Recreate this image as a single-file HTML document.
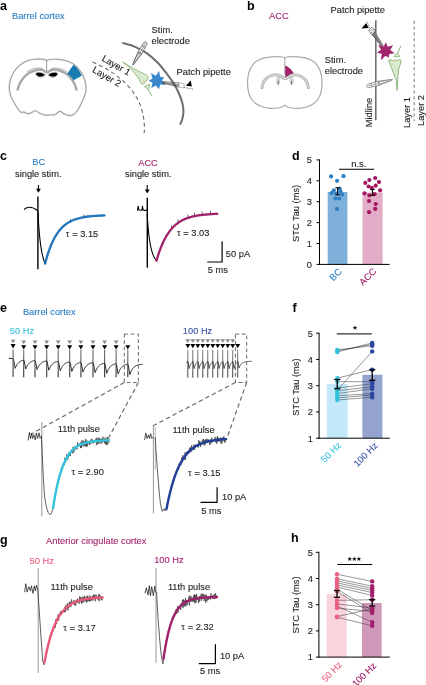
<!DOCTYPE html>
<html><head><meta charset="utf-8"><style>
html,body{margin:0;padding:0;background:#fff;}
svg{display:block;will-change:transform;}
text{font-family:"Liberation Sans", sans-serif;}
</style></head><body>
<svg width="426" height="685" viewBox="0 0 426 685">
<defs><linearGradient id="artg" x1="0" y1="349" x2="0" y2="378" gradientUnits="userSpaceOnUse"><stop offset="0" stop-color="#7c7c7c"/><stop offset="0.45" stop-color="#5e5e5e"/><stop offset="1" stop-color="#333"/></linearGradient></defs>
<rect width="426" height="685" fill="#fff"/>
<text x="0" y="10" font-size="12.5" fill="#000" text-anchor="start" font-weight="bold">a</text>
<text x="12" y="18.7" font-size="9.3" fill="#2f80c4" text-anchor="start" font-weight="normal" stroke="#2f80c4" stroke-width="0.12">Barrel cortex</text>
<path d="M46.60,60.70 C46.25,60.50 46.15,59.77 44.50,59.50 C42.85,59.23 39.53,58.92 36.70,59.10 C33.87,59.28 30.37,59.53 27.50,60.60 C24.63,61.67 21.83,63.52 19.50,65.50 C17.17,67.48 15.08,69.92 13.50,72.50 C11.92,75.08 10.70,78.28 10.00,81.00 C9.30,83.72 9.20,86.38 9.30,88.80 C9.40,91.22 9.90,93.38 10.60,95.50 C11.30,97.62 12.35,99.40 13.50,101.50 C14.65,103.60 16.20,106.25 17.50,108.10 C18.80,109.95 20.30,111.97 21.30,112.60 C22.30,113.23 22.42,111.72 23.50,111.90 C24.58,112.08 26.45,113.57 27.80,113.70 C29.15,113.83 30.33,113.22 31.60,112.70 C32.87,112.18 34.00,110.48 35.40,110.60 C36.80,110.72 38.28,112.63 40.00,113.40 C41.72,114.17 43.97,114.95 45.70,115.20 C47.43,115.45 48.83,115.00 50.40,114.90 C51.97,114.80 53.53,115.22 55.10,114.60 C56.67,113.98 58.08,111.20 59.80,111.20 C61.52,111.20 63.37,113.93 65.40,114.60 C67.43,115.27 70.12,115.70 72.00,115.20 C73.88,114.70 75.28,113.30 76.70,111.60 C78.12,109.90 79.37,107.18 80.50,105.00 C81.63,102.82 82.63,100.67 83.50,98.50 C84.37,96.33 85.28,94.00 85.70,92.00 C86.12,90.00 86.17,88.50 86.00,86.50 C85.83,84.50 85.40,82.22 84.70,80.00 C84.00,77.78 83.00,75.27 81.80,73.20 C80.60,71.13 78.88,69.13 77.50,67.60 C76.12,66.07 75.33,65.13 73.50,64.00 C71.67,62.87 69.25,61.60 66.50,60.80 C63.75,60.00 59.83,59.40 57.00,59.20 C54.17,59.00 51.23,59.35 49.50,59.60 C47.77,59.85 47.08,60.52 46.60,60.70 Z" fill="#fff" stroke="#a9a9a9" stroke-width="1.4"/>
<line x1="46.6" y1="60.8" x2="46.6" y2="71.2" stroke="#a9a9a9" stroke-width="1.2"/>
<path d="M17.60,89.60 C17.97,88.58 18.77,85.53 19.80,83.50 C20.83,81.47 22.35,79.12 23.80,77.40 C25.25,75.68 26.80,74.30 28.50,73.20 C30.20,72.10 32.17,71.40 34.00,70.80 C35.83,70.20 38.00,69.70 39.50,69.60 C41.00,69.50 41.82,69.73 43.00,70.20 C44.18,70.67 45.25,72.40 46.60,72.40 C47.95,72.40 49.77,70.67 51.10,70.20 C52.43,69.73 53.10,69.50 54.60,69.60 C56.10,69.70 58.27,70.20 60.10,70.80 C61.93,71.40 63.90,72.10 65.60,73.20 C67.30,74.30 68.85,75.68 70.30,77.40 C71.75,79.12 73.27,81.47 74.30,83.50 C75.33,85.53 76.13,88.58 76.50,89.60" fill="none" stroke="#a9a9a9" stroke-width="2.4" stroke-linecap="round"/>
<path d="M27.00,71.60 C28.00,71.17 31.17,69.57 33.00,69.00 C34.83,68.43 36.50,68.30 38.00,68.20 C39.50,68.10 40.90,67.87 42.00,68.40 C43.10,68.93 44.17,70.90 44.60,71.40" fill="none" stroke="#a9a9a9" stroke-width="1.0"/>
<path d="M66.80,71.60 C65.80,71.17 62.63,69.57 60.80,69.00 C58.97,68.43 57.30,68.30 55.80,68.20 C54.30,68.10 52.90,67.87 51.80,68.40 C50.70,68.93 49.63,70.90 49.20,71.40" fill="none" stroke="#a9a9a9" stroke-width="1.0"/>
<path d="M35.00,74.60 C35.20,74.17 35.33,72.45 36.20,72.00 C37.07,71.55 38.80,71.67 40.20,71.90 C41.60,72.13 43.67,72.88 44.60,73.40 C45.53,73.92 46.15,74.30 45.80,75.00 C45.45,75.70 43.80,77.23 42.50,77.60 C41.20,77.97 39.25,77.70 38.00,77.20 C36.75,76.70 35.50,75.03 35.00,74.60 Z" fill="#c4c4c4"/>
<path d="M35.90,74.60 C36.08,74.32 36.28,73.20 37.00,72.90 C37.72,72.60 39.10,72.63 40.20,72.80 C41.30,72.97 42.90,73.53 43.60,73.90 C44.30,74.27 44.70,74.57 44.40,75.00 C44.10,75.43 42.83,76.30 41.80,76.50 C40.77,76.70 39.18,76.52 38.20,76.20 C37.22,75.88 36.28,74.87 35.90,74.60 Z" fill="#000"/>
<path d="M58.40,74.60 C58.20,74.17 58.07,72.45 57.20,72.00 C56.33,71.55 54.60,71.67 53.20,71.90 C51.80,72.13 49.73,72.88 48.80,73.40 C47.87,73.92 47.25,74.30 47.60,75.00 C47.95,75.70 49.60,77.23 50.90,77.60 C52.20,77.97 54.15,77.70 55.40,77.20 C56.65,76.70 57.90,75.03 58.40,74.60 Z" fill="#c4c4c4"/>
<path d="M57.50,74.60 C57.32,74.32 57.12,73.20 56.40,72.90 C55.68,72.60 54.30,72.63 53.20,72.80 C52.10,72.97 50.50,73.53 49.80,73.90 C49.10,74.27 48.70,74.57 49.00,75.00 C49.30,75.43 50.57,76.30 51.60,76.50 C52.63,76.70 54.22,76.52 55.20,76.20 C56.18,75.88 57.12,74.87 57.50,74.60 Z" fill="#000"/>
<path d="M67.1,73.8 L73.5,64.8 Q78.8,68.5 81.8,75.7 L73.6,80.2 Q71,76.3 67.1,73.8 Z" fill="#1a7bb1"/>
<path d="M122.30,42.90 C124.42,43.55 131.00,45.13 135.00,46.80 C139.00,48.47 142.55,50.28 146.30,52.90 C150.05,55.52 154.10,59.05 157.50,62.50 C160.90,65.95 163.95,70.02 166.70,73.60 C169.45,77.18 171.92,80.60 174.00,84.00 C176.08,87.40 177.77,90.67 179.20,94.00 C180.63,97.33 181.90,101.00 182.60,104.00 C183.30,107.00 183.47,109.42 183.40,112.00 C183.33,114.58 182.77,117.38 182.20,119.50 C181.63,121.62 180.37,123.83 180.00,124.70" fill="none" stroke="#6d6e70" stroke-width="2"/>
<path d="M92.5,62.1 C112,70 130,84 138,100 C143,110 145,122 144.2,133" fill="none" stroke="#666" stroke-width="1.1" stroke-dasharray="4,3"/>
<text x="101.3" y="60.3" font-size="9.3" fill="#231f20" text-anchor="start" font-weight="normal" stroke="#231f20" stroke-width="0.12" transform="rotate(30 101.3 60.3)">Layer 1</text>
<text x="91.8" y="71.6" font-size="9.3" fill="#231f20" text-anchor="start" font-weight="normal" stroke="#231f20" stroke-width="0.12" transform="rotate(30 91.8 71.6)">Layer 2</text>
<g transform="translate(132.8,65) rotate(30.3) scale(1.0)" stroke="#444" stroke-width="0.6" fill="#f4f4f4"><path d="M-0.3,0 L-2.1,-14 L2.1,-14 L0.3,0 Z"/><path d="M-2.1,-14 L-1.8,-25 Q0,-28.2 1.8,-25 L2.1,-14 Z"/><path d="M-0.7,-2 L-1,-14 M0.7,-2 L1,-14 M-1.8,-17.5 L1.8,-17.5 M-1.8,-21.5 L1.8,-21.5 M0,-14 L0,-25" fill="none" stroke-width="0.45"/></g>
<text x="151.6" y="32.8" font-size="9.3" fill="#231f20" text-anchor="start" font-weight="normal" stroke="#231f20" stroke-width="0.12">Stim.</text>
<text x="151.6" y="44" font-size="9.3" fill="#231f20" text-anchor="start" font-weight="normal" stroke="#231f20" stroke-width="0.12">electrode</text>
<path d="M122.6,62.0 L131,67.0 Q139,71.8 144,73.8 Q146.8,74.8 147.9,76.6 Q148.6,78.6 147,80.2 Q145.6,80.6 145.6,81.8 Q145,83.8 143.2,84.2 Q141.6,84.5 140.8,83.2 Q140,80.5 138,77.8 Q135,73.3 130.6,68.2 Z" fill="#d9ebcf" stroke="#7cab6a" stroke-width="0.75"/>
<circle cx="143.9" cy="81.2" r="0.9" fill="#f0b8c0"/>
<path d="M144.4,86.6 Q147,84.8 150.0,84.4 Q149.4,87.4 148.2,89.6 Q146.2,87.6 144.4,86.6 Z" fill="#d9ebcf" stroke="#7cab6a" stroke-width="0.75"/>
<path d="M148.2,89.4 L150.0,92.6 L151.9,96" fill="none" stroke="#7cab6a" stroke-width="0.9"/>
<path d="M159.14,71.07 L160.10,76.68 L164.11,77.14 L162.00,80.58 L165.81,84.81 L160.13,84.50 L159.00,89.21 L155.90,85.48 L151.23,87.89 L152.50,82.79 L148.63,80.63 L152.49,78.45 L150.88,72.99 L155.87,75.73 Z" fill="#3a88cc" stroke="none" stroke-width="1"/>
<g stroke="#333" stroke-width="0.55" fill="none"><path d="M162.5,81.4 L179,82.9 M162.5,83.2 L179,87 M162.5,82.3 L179,84.6 M163,82.8 L179,85.9"/><path d="M178.8,82.9 L184.2,83.9 L184.2,87.9 L178.8,87 Z" fill="#fff" stroke-dasharray="1.2,0.8"/></g>
<line x1="184.2" y1="87.5" x2="193.5" y2="89.2" stroke="#333" stroke-width="0.6" stroke-dasharray="1.5,1"/>
<path d="M185.9,85.8 L190.8,80.6 L191.8,86.6 Z" fill="#000"/>
<text x="176.6" y="74.7" font-size="9.3" fill="#231f20" text-anchor="start" font-weight="normal" stroke="#231f20" stroke-width="0.12">Patch pipette</text>
<text x="247" y="9.8" font-size="12.5" fill="#000" text-anchor="start" font-weight="bold">b</text>
<text x="269.1" y="18.8" font-size="9.3" fill="#a3286e" text-anchor="start" font-weight="normal" stroke="#a3286e" stroke-width="0.12">ACC</text>
<path d="M284.80,58.20 C284.50,58.00 284.13,57.27 283.00,57.00 C281.87,56.73 279.95,56.62 278.00,56.60 C276.05,56.58 273.97,56.57 271.30,56.90 C268.63,57.23 264.72,57.70 262.00,58.60 C259.28,59.50 256.90,60.68 255.00,62.30 C253.10,63.92 251.75,66.02 250.60,68.30 C249.45,70.58 248.60,73.38 248.10,76.00 C247.60,78.62 247.52,81.25 247.60,84.00 C247.68,86.75 247.95,90.00 248.60,92.50 C249.25,95.00 250.18,97.08 251.50,99.00 C252.82,100.92 254.58,102.67 256.50,104.00 C258.42,105.33 260.75,106.28 263.00,107.00 C265.25,107.72 267.50,108.13 270.00,108.30 C272.50,108.47 275.90,108.25 278.00,108.00 C280.10,107.75 281.47,107.27 282.60,106.80 C283.73,106.33 284.07,105.20 284.80,105.20 C285.53,105.20 285.87,106.33 287.00,106.80 C288.13,107.27 289.50,107.75 291.60,108.00 C293.70,108.25 297.10,108.47 299.60,108.30 C302.10,108.13 304.35,107.72 306.60,107.00 C308.85,106.28 311.18,105.33 313.10,104.00 C315.02,102.67 316.78,100.92 318.10,99.00 C319.42,97.08 320.35,95.00 321.00,92.50 C321.65,90.00 321.92,86.75 322.00,84.00 C322.08,81.25 322.00,78.62 321.50,76.00 C321.00,73.38 320.15,70.58 319.00,68.30 C317.85,66.02 316.50,63.92 314.60,62.30 C312.70,60.68 310.32,59.50 307.60,58.60 C304.88,57.70 300.97,57.23 298.30,56.90 C295.63,56.57 293.55,56.58 291.60,56.60 C289.65,56.62 287.73,56.73 286.60,57.00 C285.47,57.27 285.10,58.00 284.80,58.20 Z" fill="#fff" stroke="#a9a9a9" stroke-width="1.2"/>
<line x1="284.8" y1="57.2" x2="284.8" y2="74.5" stroke="#a9a9a9" stroke-width="1.1"/>
<path d="M285.2,66.4 Q285.4,65.6 286.6,66 Q290.8,68.4 293.4,72.6 Q293.6,73.4 292.8,74.2 Q290,76.8 286.6,78 Q285.2,78.3 285.2,76.8 Z" fill="#a0256b"/>
<ellipse cx="278.2" cy="80.6" rx="2.1" ry="4.2" fill="#d2d2d2"/>
<ellipse cx="291.6" cy="80.6" rx="2.1" ry="4.2" fill="#d2d2d2"/>
<path d="M262.00,87.60 C262.27,86.67 262.68,83.67 263.60,82.00 C264.52,80.33 265.93,78.75 267.50,77.60 C269.07,76.45 271.17,75.50 273.00,75.10 C274.83,74.70 276.90,74.82 278.50,75.20 C280.10,75.58 281.48,76.83 282.60,77.40 C283.72,77.97 284.33,78.60 285.20,78.60 C286.07,78.60 286.68,77.97 287.80,77.40 C288.92,76.83 290.30,75.58 291.90,75.20 C293.50,74.82 295.57,74.70 297.40,75.10 C299.23,75.50 301.33,76.45 302.90,77.60 C304.47,78.75 305.88,80.33 306.80,82.00 C307.72,83.67 308.13,86.67 308.40,87.60" fill="none" stroke="#b3b3b3" stroke-width="3" stroke-linecap="round"/>
<path d="M262.00,87.60 C262.27,86.67 262.68,83.67 263.60,82.00 C264.52,80.33 265.93,78.75 267.50,77.60 C269.07,76.45 271.17,75.50 273.00,75.10 C274.83,74.70 276.90,74.82 278.50,75.20 C280.10,75.58 281.48,76.83 282.60,77.40 C283.72,77.97 284.33,78.60 285.20,78.60 C286.07,78.60 286.68,77.97 287.80,77.40 C288.92,76.83 290.30,75.58 291.90,75.20 C293.50,74.82 295.57,74.70 297.40,75.10 C299.23,75.50 301.33,76.45 302.90,77.60 C304.47,78.75 305.88,80.33 306.80,82.00 C307.72,83.67 308.13,86.67 308.40,87.60" fill="none" stroke="#f4f4f4" stroke-width="0.8" stroke-linecap="round"/>
<path d="M278.5,79.8 Q277.3,83 278.0,85.6 Q279.0,83 278.5,79.8 Z" fill="#444"/>
<path d="M291.90000000000003,79.8 Q290.70000000000005,83 291.40000000000003,85.6 Q292.40000000000003,83 291.90000000000003,79.8 Z" fill="#444"/>
<text x="324.8" y="62.7" font-size="9.3" fill="#231f20" text-anchor="start" font-weight="normal" stroke="#231f20" stroke-width="0.12">Stim.</text>
<text x="324.8" y="73.7" font-size="9.3" fill="#231f20" text-anchor="start" font-weight="normal" stroke="#231f20" stroke-width="0.12">electrode</text>
<text x="330.6" y="12.8" font-size="9.3" fill="#231f20" text-anchor="start" font-weight="normal" stroke="#231f20" stroke-width="0.12">Patch pipette</text>
<line x1="375.8" y1="20.3" x2="375.8" y2="120.3" stroke="#6d6e70" stroke-width="1.6"/>
<text x="372.2" y="127.2" font-size="9.3" fill="#231f20" text-anchor="start" font-weight="normal" stroke="#231f20" stroke-width="0.12" transform="rotate(-90 372.2 127.2)">Midline</text>
<line x1="414.2" y1="20.8" x2="414.2" y2="121" stroke="#6d6e70" stroke-width="0.9" stroke-dasharray="3.2,2.6"/>
<text x="409.8" y="128" font-size="9.3" fill="#231f20" text-anchor="start" font-weight="normal" stroke="#231f20" stroke-width="0.12" transform="rotate(-90 409.8 128)">Layer 1</text>
<text x="424.2" y="126" font-size="9.3" fill="#231f20" text-anchor="start" font-weight="normal" stroke="#231f20" stroke-width="0.12" transform="rotate(-90 424.2 126)">Layer 2</text>
<path d="M382.0,47.4 L383.8,46.0 L374.8,31.4 L371.0,33.8 Z" fill="#5a5a5a"/>
<path d="M382.6,46.6 L372.6,32.8 M383.2,46.2 L374,32.2" stroke="#ddd" stroke-width="0.4" fill="none"/>
<path d="M368.8,30.2 L371.6,27.4 Q374.5,28.5 375.3,31.6 L372.2,34.6 Q369.5,33.3 368.8,30.2 Z" fill="#fff" stroke="#333" stroke-width="0.6"/>
<path d="M370,30.5 L373.8,29.6 M370.8,32.8 L374.4,31.5" stroke="#333" stroke-width="0.45" fill="none"/>
<line x1="369.5" y1="28.2" x2="366.7" y2="20.8" stroke="#333" stroke-width="0.6" stroke-dasharray="1.5,1"/>
<path d="M361.5,28.6 L366.2,23.0 L368.6,28.0 Z" fill="#000"/>
<path d="M394.71,53.33 L389.20,54.02 L388.69,57.86 L385.48,55.70 L380.79,60.37 L381.85,53.84 L376.85,52.76 L381.05,49.84 L378.04,44.65 L383.67,46.71 L385.82,42.35 L387.75,46.82 L393.10,45.33 L390.21,50.07 Z" fill="#a2246e" stroke="none" stroke-width="1"/>
<path d="M401,45.8 L397.6,53.2" stroke="#78a865" stroke-width="0.9" fill="none"/>
<path d="M397.6,53.2 Q395,54.6 393.8,56.4 Q396.8,57.2 399.6,56.4 Q398.6,54.8 397.6,53.2 Z" fill="#d9ebcf" stroke="#78a865" stroke-width="0.75"/>
<path d="M388.5,60.3 Q391,58.8 393.5,61 Q395,59 397.3,60.6 Q399.5,58.5 401,60.3 Q401,64 398.6,69 L397.8,78 L397.2,90.3 L396.2,80 Q393,72 388.5,60.3 Z" fill="#d9ebcf" stroke="#78a865" stroke-width="0.8"/>
<circle cx="395" cy="61" r="0.9" fill="#f3c0c6"/>
<g transform="translate(392.4,79.7) rotate(-104.4) scale(1.0)" stroke="#6a6a6a" stroke-width="0.6" fill="#f4f4f4"><path d="M-0.3,0 L-2.1,-14 L2.1,-14 L0.3,0 Z"/><path d="M-2.1,-14 L-1.8,-25 Q0,-28.2 1.8,-25 L2.1,-14 Z"/><path d="M-0.7,-2 L-1,-14 M0.7,-2 L1,-14 M-1.8,-17.5 L1.8,-17.5 M-1.8,-21.5 L1.8,-21.5 M0,-14 L0,-25" fill="none" stroke-width="0.45"/></g>
<text x="0" y="159.6" font-size="12.5" fill="#000" text-anchor="start" font-weight="bold">c</text>
<text x="32.3" y="165.3" font-size="9.3" fill="#2f80c4" text-anchor="start" font-weight="normal" stroke="#2f80c4" stroke-width="0.12">BC</text>
<text x="15" y="176.5" font-size="9.3" fill="#231f20" text-anchor="start" font-weight="normal" stroke="#231f20" stroke-width="0.12">single stim.</text>
<text x="138.2" y="165.7" font-size="9.3" fill="#a3286e" text-anchor="start" font-weight="normal" stroke="#a3286e" stroke-width="0.12">ACC</text>
<text x="125" y="176.7" font-size="9.3" fill="#231f20" text-anchor="start" font-weight="normal" stroke="#231f20" stroke-width="0.12">single stim.</text>
<line x1="38.45" y1="184.9" x2="38.45" y2="189.8" stroke="#000" stroke-width="1.1"/>
<path d="M36.050000000000004,188.70000000000002 L40.85,188.70000000000002 L38.45,192.8 Z" fill="#000"/>
<line x1="147.2" y1="184.9" x2="147.2" y2="190.6" stroke="#000" stroke-width="1.1"/>
<path d="M144.79999999999998,189.5 L149.6,189.5 L147.2,193.6 Z" fill="#000"/>
<path d="M24,209.5 Q30,204.5 37.7,210.8" fill="none" stroke="#000" stroke-width="1.1"/>
<line x1="37.9" y1="196.6" x2="37.9" y2="269.2" stroke="#000" stroke-width="1.4"/>
<path d="M38.0,212 C39.2,240 42,257 45.1,263.6" fill="none" stroke="#000" stroke-width="1.1"/>
<polyline points="45.10,263.39 45.70,261.39 46.30,259.07 46.90,257.19 47.50,255.24 48.10,252.89 48.70,251.08 49.30,250.02 49.90,247.92 50.50,246.36 51.10,245.47 51.70,243.66 52.30,242.61 52.90,241.03 53.50,239.95 54.10,238.38 54.70,237.67 55.30,236.80 55.90,235.51 56.50,234.73 57.10,233.75 57.70,232.40 58.30,232.12 58.90,231.19 59.50,230.21 60.10,229.27 60.70,229.25 61.30,228.29 61.90,227.85 62.50,227.39 63.10,226.69 63.70,226.32 64.30,225.38 64.90,225.21 65.50,224.47 66.10,224.41 66.70,223.94 67.30,222.91 67.90,222.55 68.50,222.25 69.10,222.50 69.70,221.74 70.30,221.58 70.90,221.01 71.50,220.89 72.10,220.52 72.70,220.22 73.30,220.16 73.90,219.92 74.50,219.95 75.10,219.56 75.70,219.55 76.30,219.29 76.90,219.21 77.50,218.78 78.10,218.20 78.70,218.59 79.30,218.52 79.90,218.33 80.50,217.92 81.10,217.90 81.70,217.37 82.30,217.75 82.90,217.42 83.50,217.08 84.10,216.80 84.70,217.33 85.30,217.34 85.90,216.53 86.50,217.01 87.10,216.62 87.70,216.33 88.30,216.37 88.90,216.68 89.50,216.69 90.10,215.96 90.70,216.36 91.30,215.84 91.90,216.33 92.50,215.96 93.10,216.35 93.70,216.38 94.30,215.95 94.90,216.30 95.50,215.71 96.10,215.48 96.70,215.86 97.30,215.37 97.90,215.47 98.50,215.60 99.10,215.74 99.70,215.34 100.30,215.22 100.90,215.85 101.50,215.38 102.10,215.88 102.70,215.80 103.30,215.36 103.90,215.41 104.50,215.44" fill="none" stroke="#000" stroke-width="0.9" stroke-linejoin="round" stroke-linecap="round"/>
<line x1="70.5" y1="219.1701532724675" x2="70.5" y2="222.57015327246748" stroke="#000" stroke-width="0.6"/>
<line x1="84" y1="214.36327554900242" x2="84" y2="218.36327554900242" stroke="#000" stroke-width="0.6"/>
<line x1="88" y1="214.77086045683316" x2="88" y2="217.77086045683316" stroke="#000" stroke-width="0.6"/>
<polyline points="45.10,263.60 46.09,259.90 47.08,256.48 48.07,253.32 49.06,250.40 50.05,247.71 51.04,245.22 52.03,242.92 53.02,240.79 54.01,238.83 55.00,237.01 55.99,235.34 56.98,233.79 57.97,232.36 58.96,231.04 59.95,229.81 60.94,228.69 61.93,227.64 62.92,226.68 63.91,225.79 64.90,224.97 65.89,224.21 66.88,223.51 67.87,222.86 68.86,222.26 69.85,221.71 70.84,221.20 71.83,220.73 72.82,220.29 73.81,219.89 74.80,219.52 75.79,219.17 76.78,218.85 77.77,218.56 78.76,218.29 79.75,218.04 80.74,217.81 81.73,217.59 82.72,217.40 83.71,217.21 84.70,217.05 85.69,216.89 86.68,216.75 87.67,216.61 88.66,216.49 89.65,216.38 90.64,216.27 91.63,216.17 92.62,216.09 93.61,216.00 94.60,215.93 95.59,215.86 96.58,215.79 97.57,215.73 98.56,215.67 99.55,215.62 100.54,215.58 101.53,215.53 102.52,215.49 103.51,215.45 104.50,215.42" fill="none" stroke="#2176be" stroke-width="2.3" stroke-linejoin="round" stroke-linecap="round"/>
<text x="65.8" y="236.8" font-size="9.3" fill="#231f20" text-anchor="start" font-weight="normal" stroke="#231f20" stroke-width="0.12"><tspan font-family="Liberation Serif">&#964;</tspan> = 3.15</text>
<polyline points="137.50,210.20 138.20,206.20 138.90,210.00 141.80,210.30 142.50,206.30 143.20,210.10 144.50,210.60 147.20,209.80" fill="none" stroke="#000" stroke-width="1.1" stroke-linejoin="round" stroke-linecap="round"/>
<line x1="147.3" y1="197.8" x2="147.3" y2="267.8" stroke="#000" stroke-width="1.4"/>
<path d="M147.2,214 C148.5,240 151.5,256 156.5,260.7" fill="none" stroke="#000" stroke-width="1.1"/>
<polyline points="156.50,260.49 157.10,258.35 157.70,256.60 158.30,254.53 158.90,252.66 159.50,251.18 160.10,249.96 160.70,248.28 161.30,246.75 161.90,244.87 162.50,243.73 163.10,242.21 163.70,240.85 164.30,239.60 164.90,238.53 165.50,237.99 166.10,236.86 166.70,235.82 167.30,234.85 167.90,233.44 168.50,232.64 169.10,232.05 169.70,231.32 170.30,230.65 170.90,229.92 171.50,228.58 172.10,228.32 172.70,227.71 173.30,226.97 173.90,226.11 174.50,225.78 175.10,224.93 175.70,225.08 176.30,224.53 176.90,223.80 177.50,223.15 178.10,223.20 178.70,222.51 179.30,222.37 179.90,221.96 180.50,221.32 181.10,220.90 181.70,220.71 182.30,220.26 182.90,219.74 183.50,219.56 184.10,219.69 184.70,218.81 185.30,218.56 185.90,218.77 186.50,218.26 187.10,218.24 187.70,217.98 188.30,217.67 188.90,218.00 189.50,217.17 190.10,217.17 190.70,216.83 191.30,217.01 191.90,216.56 192.50,216.48 193.10,216.65 193.70,216.17 194.30,216.23 194.90,216.38 195.50,215.62 196.10,215.47 196.70,215.50 197.30,215.82 197.90,215.60 198.50,215.20 199.10,215.19 199.70,214.98 200.30,215.12 200.90,214.70 201.50,215.15 202.10,215.23 202.70,215.21 203.30,214.97 203.90,215.08 204.50,214.27 205.10,214.43 205.70,214.91 206.30,214.71 206.90,214.36 207.50,214.74 208.10,214.43 208.70,214.55 209.30,214.08 209.90,213.96 210.50,214.12 211.10,213.84 211.70,214.00 212.30,214.43 212.90,213.89 213.50,213.60 214.10,213.60 214.70,213.67 215.30,214.14 215.90,213.77 216.50,213.69 217.10,213.51" fill="none" stroke="#000" stroke-width="0.9" stroke-linejoin="round" stroke-linecap="round"/>
<line x1="171.5" y1="225.50374762209472" x2="171.5" y2="230.10374762209472" stroke="#000" stroke-width="0.6"/>
<line x1="178" y1="219.54104626173793" x2="178" y2="224.14104626173793" stroke="#000" stroke-width="0.6"/>
<line x1="188" y1="214.4964712767728" x2="188" y2="219.0964712767728" stroke="#000" stroke-width="0.6"/>
<line x1="194.5" y1="212.74000954728126" x2="194.5" y2="217.34000954728126" stroke="#000" stroke-width="0.6"/>
<line x1="202" y1="211.5294651926796" x2="202" y2="216.1294651926796" stroke="#000" stroke-width="0.6"/>
<line x1="210.5" y1="210.768161283326" x2="210.5" y2="215.368161283326" stroke="#000" stroke-width="0.6"/>
<polyline points="156.50,260.70 157.51,257.27 158.53,254.09 159.54,251.14 160.55,248.41 161.57,245.87 162.58,243.51 163.59,241.33 164.61,239.30 165.62,237.42 166.63,235.68 167.65,234.06 168.66,232.56 169.67,231.16 170.69,229.87 171.70,228.67 172.71,227.56 173.73,226.53 174.74,225.57 175.75,224.69 176.77,223.86 177.78,223.10 178.79,222.39 179.81,221.73 180.82,221.12 181.83,220.56 182.85,220.03 183.86,219.55 184.87,219.09 185.89,218.68 186.90,218.29 187.91,217.93 188.93,217.59 189.94,217.28 190.95,216.99 191.97,216.73 192.98,216.48 193.99,216.25 195.01,216.04 196.02,215.84 197.03,215.65 198.05,215.48 199.06,215.33 200.07,215.18 201.09,215.04 202.10,214.92 203.11,214.80 204.13,214.69 205.14,214.59 206.15,214.50 207.17,214.41 208.18,214.33 209.19,214.26 210.21,214.19 211.22,214.12 212.23,214.06 213.25,214.01 214.26,213.96 215.27,213.91 216.29,213.87 217.30,213.82" fill="none" stroke="#a3216b" stroke-width="2.3" stroke-linejoin="round" stroke-linecap="round"/>
<text x="177" y="236.1" font-size="9.3" fill="#231f20" text-anchor="start" font-weight="normal" stroke="#231f20" stroke-width="0.12"><tspan font-family="Liberation Serif">&#964;</tspan> = 3.03</text>
<polyline points="207.70,262.00 222.10,262.00 222.10,241.80" fill="none" stroke="#000" stroke-width="1.2" stroke-linejoin="round" stroke-linecap="round" stroke-linecap="butt" stroke-linejoin="miter"/>
<text x="225.8" y="256.8" font-size="9.3" fill="#231f20" text-anchor="start" font-weight="normal" stroke="#231f20" stroke-width="0.12">50 pA</text>
<text x="207.7" y="272.7" font-size="9.3" fill="#231f20" text-anchor="start" font-weight="normal" stroke="#231f20" stroke-width="0.12">5 ms</text>
<text x="292" y="159.6" font-size="12.5" fill="#000" text-anchor="start" font-weight="bold">d</text>
<rect x="327.7" y="192" width="19.7" height="72.4" fill="#7fb0d9"/>
<rect x="362.5" y="192.6" width="20.1" height="71.8" fill="#e3adc8"/>
<line x1="319.5" y1="159.39999999999998" x2="319.5" y2="265.0" stroke="#000" stroke-width="1"/>
<line x1="316.5" y1="159.89999999999998" x2="319.5" y2="159.89999999999998" stroke="#000" stroke-width="1"/>
<text x="311.8" y="163.2" font-size="9.3" fill="#231f20" text-anchor="end" font-weight="normal" stroke="#231f20" stroke-width="0.12">5</text>
<line x1="316.5" y1="180.79999999999998" x2="319.5" y2="180.79999999999998" stroke="#000" stroke-width="1"/>
<text x="311.8" y="184.1" font-size="9.3" fill="#231f20" text-anchor="end" font-weight="normal" stroke="#231f20" stroke-width="0.12">4</text>
<line x1="316.5" y1="201.7" x2="319.5" y2="201.7" stroke="#000" stroke-width="1"/>
<text x="311.8" y="205.0" font-size="9.3" fill="#231f20" text-anchor="end" font-weight="normal" stroke="#231f20" stroke-width="0.12">3</text>
<line x1="316.5" y1="222.59999999999997" x2="319.5" y2="222.59999999999997" stroke="#000" stroke-width="1"/>
<text x="311.8" y="225.89999999999998" font-size="9.3" fill="#231f20" text-anchor="end" font-weight="normal" stroke="#231f20" stroke-width="0.12">2</text>
<line x1="316.5" y1="243.49999999999997" x2="319.5" y2="243.49999999999997" stroke="#000" stroke-width="1"/>
<text x="311.8" y="246.79999999999998" font-size="9.3" fill="#231f20" text-anchor="end" font-weight="normal" stroke="#231f20" stroke-width="0.12">1</text>
<line x1="316.5" y1="264.4" x2="319.5" y2="264.4" stroke="#000" stroke-width="1"/>
<text x="311.8" y="267.7" font-size="9.3" fill="#231f20" text-anchor="end" font-weight="normal" stroke="#231f20" stroke-width="0.12">0</text>
<line x1="319" y1="264.4" x2="389.6" y2="264.4" stroke="#000" stroke-width="1"/>
<text x="299.5" y="213.4" font-size="9.3" fill="#231f20" text-anchor="middle" font-weight="normal" stroke="#231f20" stroke-width="0.12" transform="rotate(-90 299.5 213.4)">STC Tau (ms)</text>
<line x1="339" y1="169.3" x2="374" y2="169.3" stroke="#000" stroke-width="1.1"/>
<text x="358.8" y="166.5" font-size="9.3" fill="#231f20" text-anchor="middle" font-weight="normal" stroke="#231f20" stroke-width="0.12">n.s.</text>
<circle cx="331.1" cy="176.4" r="2.1" fill="#2c80c5"/>
<circle cx="343.5" cy="176.2" r="2.1" fill="#2c80c5"/>
<circle cx="337.1" cy="180.8" r="2.1" fill="#2c80c5"/>
<circle cx="339.7" cy="188.7" r="2.1" fill="#2c80c5"/>
<circle cx="333.8" cy="190.4" r="2.1" fill="#2c80c5"/>
<circle cx="331.6" cy="193.0" r="2.1" fill="#2c80c5"/>
<circle cx="342.3" cy="194.6" r="2.1" fill="#2c80c5"/>
<circle cx="335.5" cy="198.5" r="2.1" fill="#2c80c5"/>
<circle cx="339.3" cy="198.5" r="2.1" fill="#2c80c5"/>
<circle cx="337.1" cy="208.9" r="2.1" fill="#2c80c5"/>
<circle cx="336.5" cy="193.5" r="2.1" fill="#2c80c5"/>
<circle cx="340.5" cy="191.5" r="2.1" fill="#2c80c5"/>
<circle cx="375.2" cy="178" r="2.1" fill="#a2175d"/>
<circle cx="369.4" cy="180" r="2.1" fill="#a2175d"/>
<circle cx="365.3" cy="182.9" r="2.1" fill="#a2175d"/>
<circle cx="379" cy="182.1" r="2.1" fill="#a2175d"/>
<circle cx="368.6" cy="186.5" r="2.1" fill="#a2175d"/>
<circle cx="375.7" cy="185.7" r="2.1" fill="#a2175d"/>
<circle cx="371.9" cy="187.9" r="2.1" fill="#a2175d"/>
<circle cx="380.1" cy="190.3" r="2.1" fill="#a2175d"/>
<circle cx="364.5" cy="193.3" r="2.1" fill="#a2175d"/>
<circle cx="369.4" cy="195.3" r="2.1" fill="#a2175d"/>
<circle cx="374.7" cy="194.1" r="2.1" fill="#a2175d"/>
<circle cx="369.1" cy="201" r="2.1" fill="#a2175d"/>
<circle cx="375.7" cy="204" r="2.1" fill="#a2175d"/>
<circle cx="375.2" cy="208.9" r="2.1" fill="#a2175d"/>
<circle cx="369.1" cy="212.2" r="2.1" fill="#a2175d"/>
<line x1="337.6" y1="187.8" x2="337.6" y2="194.8" stroke="#000" stroke-width="1.1"/>
<line x1="335.35" y1="187.8" x2="339.85" y2="187.8" stroke="#000" stroke-width="1.1"/>
<line x1="335.35" y1="194.8" x2="339.85" y2="194.8" stroke="#000" stroke-width="1.1"/>
<line x1="372.4" y1="189.5" x2="372.4" y2="195.3" stroke="#000" stroke-width="1.1"/>
<line x1="370.15" y1="189.5" x2="374.65" y2="189.5" stroke="#000" stroke-width="1.1"/>
<line x1="370.15" y1="195.3" x2="374.65" y2="195.3" stroke="#000" stroke-width="1.1"/>
<text x="342.5" y="272.3" font-size="9.3" fill="#2f80c4" text-anchor="end" font-weight="normal" stroke="#2f80c4" stroke-width="0.12" transform="rotate(-45 342.5 272.3)">BC</text>
<text x="376.9" y="272.0" font-size="9.3" fill="#a3286e" text-anchor="end" font-weight="normal" stroke="#a3286e" stroke-width="0.12" transform="rotate(-45 376.9 272.0)">ACC</text>
<text x="0" y="311.5" font-size="12.5" fill="#000" text-anchor="start" font-weight="bold">e</text>
<text x="22.9" y="314.7" font-size="9.3" fill="#2f80c4" text-anchor="start" font-weight="normal" stroke="#2f80c4" stroke-width="0.12">Barrel cortex</text>
<text x="9.8" y="334" font-size="9.3" fill="#3ec3dc" text-anchor="start" font-weight="normal" stroke="#3ec3dc" stroke-width="0.12">50 Hz</text>
<text x="182.8" y="333.5" font-size="9.3" fill="#3a55a6" text-anchor="start" font-weight="normal" stroke="#3a55a6" stroke-width="0.12">100 Hz</text>
<path d="M10.70,339.80 L15.50,339.80 L13.10,343.30 Z" fill="#888"/>
<path d="M10.60,344.10 L15.60,344.10 L13.10,348.40 Z" fill="#000"/>
<path d="M21.30,340.60 L26.10,340.60 L23.70,344.10 Z" fill="#888"/>
<path d="M21.20,345.20 L26.20,345.20 L23.70,349.50 Z" fill="#000"/>
<path d="M32.60,340.60 L37.40,340.60 L35.00,344.10 Z" fill="#888"/>
<path d="M32.50,345.20 L37.50,345.20 L35.00,349.50 Z" fill="#000"/>
<path d="M44.30,340.60 L49.10,340.60 L46.70,344.10 Z" fill="#888"/>
<path d="M44.20,345.20 L49.20,345.20 L46.70,349.50 Z" fill="#000"/>
<path d="M55.80,340.60 L60.60,340.60 L58.20,344.10 Z" fill="#888"/>
<path d="M55.70,345.20 L60.70,345.20 L58.20,349.50 Z" fill="#000"/>
<path d="M67.30,340.60 L72.10,340.60 L69.70,344.10 Z" fill="#888"/>
<path d="M67.20,345.20 L72.20,345.20 L69.70,349.50 Z" fill="#000"/>
<path d="M78.50,340.60 L83.30,340.60 L80.90,344.10 Z" fill="#888"/>
<path d="M78.40,345.20 L83.40,345.20 L80.90,349.50 Z" fill="#000"/>
<path d="M90.60,340.60 L95.40,340.60 L93.00,344.10 Z" fill="#888"/>
<path d="M90.50,345.20 L95.50,345.20 L93.00,349.50 Z" fill="#000"/>
<path d="M102.20,340.60 L107.00,340.60 L104.60,344.10 Z" fill="#888"/>
<path d="M102.10,345.20 L107.10,345.20 L104.60,349.50 Z" fill="#000"/>
<path d="M113.70,340.60 L118.50,340.60 L116.10,344.10 Z" fill="#888"/>
<path d="M113.60,345.20 L118.60,345.20 L116.10,349.50 Z" fill="#000"/>
<path d="M125.30,345.20 L130.30,345.20 L127.80,349.50 Z" fill="#000"/>
<line x1="13.10" y1="349.6" x2="13.10" y2="376.8" stroke="url(#artg)" stroke-width="1.15"/>
<line x1="23.70" y1="349.6" x2="23.70" y2="377.3" stroke="url(#artg)" stroke-width="1.15"/>
<line x1="35.00" y1="349.6" x2="35.00" y2="377.3" stroke="url(#artg)" stroke-width="1.15"/>
<line x1="46.70" y1="349.6" x2="46.70" y2="377.3" stroke="url(#artg)" stroke-width="1.15"/>
<line x1="58.20" y1="349.6" x2="58.20" y2="377.3" stroke="url(#artg)" stroke-width="1.15"/>
<line x1="69.70" y1="349.6" x2="69.70" y2="377.3" stroke="url(#artg)" stroke-width="1.15"/>
<line x1="80.90" y1="349.6" x2="80.90" y2="377.3" stroke="url(#artg)" stroke-width="1.15"/>
<line x1="93.00" y1="349.6" x2="93.00" y2="377.3" stroke="url(#artg)" stroke-width="1.15"/>
<line x1="104.60" y1="349.6" x2="104.60" y2="377.3" stroke="url(#artg)" stroke-width="1.15"/>
<line x1="116.10" y1="349.6" x2="116.10" y2="377.3" stroke="url(#artg)" stroke-width="1.15"/>
<line x1="127.80" y1="349.6" x2="127.80" y2="377.3" stroke="url(#artg)" stroke-width="1.15"/>
<polyline points="9.10,358.40 12.20,358.40 13.50,359.20 15.20,368.30 15.70,367.08 16.20,366.03 16.70,365.13 17.20,364.34 17.70,363.67 18.20,363.08 18.70,362.58 19.20,362.14 19.70,361.77 20.20,361.45 20.70,361.17 21.20,360.92 21.70,360.72 22.20,360.54 22.70,360.38 23.20,360.25 23.70,360.13 24.10,360.93 25.80,368.92 26.30,367.68 26.80,366.61 27.30,365.69 27.80,364.89 28.30,364.20 28.80,363.61 29.30,363.10 29.80,362.65 30.30,362.27 30.80,361.94 31.30,361.66 31.80,361.41 32.30,361.20 32.80,361.02 33.30,360.86 33.80,360.72 34.30,360.60 34.80,360.50 35.40,361.30 37.10,369.54 37.60,368.28 38.10,367.19 38.60,366.25 39.10,365.44 39.60,364.74 40.10,364.14 40.60,363.61 41.10,363.16 41.60,362.77 42.10,362.44 42.60,362.15 43.10,361.90 43.60,361.68 44.10,361.50 44.60,361.34 45.10,361.20 45.60,361.08 46.10,360.97 46.60,360.88 47.10,361.68 48.80,370.16 49.30,368.88 49.80,367.77 50.30,366.81 50.80,365.99 51.30,365.28 51.80,364.66 52.30,364.13 52.80,363.67 53.30,363.28 53.80,362.94 54.30,362.64 54.80,362.39 55.30,362.17 55.80,361.98 56.30,361.81 56.80,361.67 57.30,361.55 57.80,361.44 58.60,362.24 60.30,370.78 60.80,369.48 61.30,368.35 61.80,367.38 62.30,366.54 62.80,365.81 63.30,365.19 63.80,364.65 64.30,364.18 64.80,363.78 65.30,363.43 65.80,363.13 66.30,362.87 66.80,362.65 67.30,362.46 67.80,362.29 68.30,362.15 68.80,362.02 69.30,361.92 70.10,362.72 71.80,371.40 72.30,370.07 72.80,368.93 73.30,367.94 73.80,367.09 74.30,366.35 74.80,365.71 75.30,365.17 75.80,364.69 76.30,364.28 76.80,363.93 77.30,363.62 77.80,363.36 78.30,363.13 78.80,362.94 79.30,362.77 79.80,362.62 80.30,362.50 80.80,362.39 81.30,363.19 83.00,372.02 83.50,370.67 84.00,369.51 84.50,368.50 85.00,367.64 85.50,366.89 86.00,366.24 86.50,365.68 87.00,365.20 87.50,364.78 88.00,364.43 88.50,364.12 89.00,363.85 89.50,363.62 90.00,363.42 90.50,363.25 91.00,363.10 91.50,362.97 92.00,362.86 92.50,362.76 93.00,362.68 93.40,363.48 95.10,372.64 95.60,371.27 96.10,370.09 96.60,369.07 97.10,368.18 97.60,367.42 98.10,366.77 98.60,366.20 99.10,365.71 99.60,365.29 100.10,364.92 100.60,364.61 101.10,364.34 101.60,364.10 102.10,363.90 102.60,363.72 103.10,363.57 103.60,363.44 104.10,363.33 104.60,363.23 105.00,364.03 106.70,373.26 107.20,371.87 107.70,370.67 108.20,369.63 108.70,368.73 109.20,367.96 109.70,367.29 110.20,366.72 110.70,366.22 111.20,365.79 111.70,365.42 112.20,365.10 112.70,364.82 113.20,364.58 113.70,364.38 114.20,364.20 114.70,364.05 115.20,363.92 115.70,363.80 116.50,364.60 118.20,373.88 118.70,372.47 119.20,371.25 119.70,370.19 120.20,369.28 120.70,368.50 121.20,367.82 121.70,367.23 122.20,366.73 122.70,366.29 123.20,365.92 123.70,365.59 124.20,365.31 124.70,365.07 125.20,364.86 125.70,364.68 126.20,364.52 126.70,364.39 127.20,364.27 127.70,364.17 128.20,364.97 129.90,374.50 130.40,373.06 130.90,371.82 131.40,370.75 131.90,369.83 132.40,369.03 132.90,368.34 133.40,367.75 133.90,367.24 134.40,366.80 134.90,366.41 135.40,366.08 135.90,365.80 136.40,365.55 136.90,365.34 137.40,365.16 137.90,365.00 138.40,364.86 138.90,364.74 139.40,364.64 139.90,364.55 140.40,364.48 140.90,364.41 141.40,364.36 141.90,364.31 142.40,364.27" fill="none" stroke="#222" stroke-width="0.95" stroke-linejoin="round" stroke-linecap="round"/>
<rect x="124.3" y="334.1" width="14.1" height="48.4" fill="none" stroke="#6b6b6b" stroke-width="1.0" stroke-dasharray="3.8,2.6"/>
<path d="M185.40,339.30 L190.20,339.30 L187.80,342.80 Z" fill="#888"/>
<path d="M185.30,344.10 L190.30,344.10 L187.80,348.30 Z" fill="#000"/>
<path d="M190.39,339.30 L195.19,339.30 L192.79,342.80 Z" fill="#888"/>
<path d="M190.29,344.10 L195.29,344.10 L192.79,348.30 Z" fill="#000"/>
<path d="M195.38,339.30 L200.18,339.30 L197.78,342.80 Z" fill="#888"/>
<path d="M195.28,344.10 L200.28,344.10 L197.78,348.30 Z" fill="#000"/>
<path d="M200.37,339.30 L205.17,339.30 L202.77,342.80 Z" fill="#888"/>
<path d="M200.27,344.10 L205.27,344.10 L202.77,348.30 Z" fill="#000"/>
<path d="M205.36,339.30 L210.16,339.30 L207.76,342.80 Z" fill="#888"/>
<path d="M205.26,344.10 L210.26,344.10 L207.76,348.30 Z" fill="#000"/>
<path d="M210.35,339.30 L215.15,339.30 L212.75,342.80 Z" fill="#888"/>
<path d="M210.25,344.10 L215.25,344.10 L212.75,348.30 Z" fill="#000"/>
<path d="M215.34,339.30 L220.14,339.30 L217.74,342.80 Z" fill="#888"/>
<path d="M215.24,344.10 L220.24,344.10 L217.74,348.30 Z" fill="#000"/>
<path d="M220.33,339.30 L225.13,339.30 L222.73,342.80 Z" fill="#888"/>
<path d="M220.23,344.10 L225.23,344.10 L222.73,348.30 Z" fill="#000"/>
<path d="M225.32,339.30 L230.12,339.30 L227.72,342.80 Z" fill="#888"/>
<path d="M225.22,344.10 L230.22,344.10 L227.72,348.30 Z" fill="#000"/>
<path d="M230.31,339.30 L235.11,339.30 L232.71,342.80 Z" fill="#888"/>
<path d="M230.21,344.10 L235.21,344.10 L232.71,348.30 Z" fill="#000"/>
<path d="M235.20,344.10 L240.20,344.10 L237.70,348.30 Z" fill="#000"/>
<line x1="187.80" y1="349.8" x2="187.80" y2="377.6" stroke="url(#artg)" stroke-width="0.95"/>
<line x1="192.79" y1="349.8" x2="192.79" y2="377.6" stroke="url(#artg)" stroke-width="0.95"/>
<line x1="197.78" y1="349.8" x2="197.78" y2="377.6" stroke="url(#artg)" stroke-width="0.95"/>
<line x1="202.77" y1="349.8" x2="202.77" y2="377.6" stroke="url(#artg)" stroke-width="0.95"/>
<line x1="207.76" y1="349.8" x2="207.76" y2="377.6" stroke="url(#artg)" stroke-width="0.95"/>
<line x1="212.75" y1="349.8" x2="212.75" y2="377.6" stroke="url(#artg)" stroke-width="0.95"/>
<line x1="217.74" y1="349.8" x2="217.74" y2="377.6" stroke="url(#artg)" stroke-width="0.95"/>
<line x1="222.73" y1="349.8" x2="222.73" y2="377.6" stroke="url(#artg)" stroke-width="0.95"/>
<line x1="227.72" y1="349.8" x2="227.72" y2="377.6" stroke="url(#artg)" stroke-width="0.95"/>
<line x1="232.71" y1="349.8" x2="232.71" y2="377.6" stroke="url(#artg)" stroke-width="0.95"/>
<line x1="237.70" y1="349.8" x2="237.70" y2="377.6" stroke="url(#artg)" stroke-width="0.95"/>
<polyline points="186.60,362.30 188.10,361.50 189.10,368.60 189.45,367.22 189.80,366.09 190.15,365.15 190.50,364.38 190.85,363.75 191.20,363.23 191.55,362.80 191.90,362.45 192.25,362.16 192.60,361.92 193.09,361.50 194.09,368.60 194.44,367.22 194.79,366.09 195.14,365.15 195.49,364.38 195.84,363.75 196.19,363.23 196.54,362.80 196.89,362.45 197.24,362.16 197.59,361.92 198.08,361.50 199.08,368.60 199.43,367.22 199.78,366.09 200.13,365.15 200.48,364.38 200.83,363.75 201.18,363.23 201.53,362.80 201.88,362.45 202.23,362.16 202.58,361.92 203.07,361.50 204.07,368.60 204.42,367.22 204.77,366.09 205.12,365.15 205.47,364.38 205.82,363.75 206.17,363.23 206.52,362.80 206.87,362.45 207.22,362.16 207.57,361.92 208.06,361.50 209.06,368.60 209.41,367.22 209.76,366.09 210.11,365.15 210.46,364.38 210.81,363.75 211.16,363.23 211.51,362.80 211.86,362.45 212.21,362.16 212.56,361.92 213.05,361.50 214.05,368.60 214.40,367.22 214.75,366.09 215.10,365.15 215.45,364.38 215.80,363.75 216.15,363.23 216.50,362.80 216.85,362.45 217.20,362.16 217.55,361.92 218.04,361.50 219.04,368.60 219.39,367.22 219.74,366.09 220.09,365.15 220.44,364.38 220.79,363.75 221.14,363.23 221.49,362.80 221.84,362.45 222.19,362.16 222.54,361.92 223.03,361.50 224.03,368.60 224.38,367.22 224.73,366.09 225.08,365.15 225.43,364.38 225.78,363.75 226.13,363.23 226.48,362.80 226.83,362.45 227.18,362.16 227.53,361.92 228.02,361.50 229.02,368.60 229.37,367.22 229.72,366.09 230.07,365.15 230.42,364.38 230.77,363.75 231.12,363.23 231.47,362.80 231.82,362.45 232.17,362.16 232.52,361.92 233.01,361.50 234.01,368.60 234.36,367.22 234.71,366.09 235.06,365.15 235.41,364.38 235.76,363.75 236.11,363.23 236.46,362.80 236.81,362.45 237.16,362.16 237.51,361.92 238.00,361.50 239.00,368.00 239.35,367.16 239.70,366.42 240.05,365.77 240.40,365.21 240.75,364.72 241.10,364.29 241.45,363.91 241.80,363.58 242.15,363.29 242.50,363.04 242.85,362.82 243.20,362.63 243.55,362.46 243.90,362.32 244.25,362.19 244.60,362.08 244.95,361.98 245.30,361.89 245.65,361.82 246.00,361.75 246.35,361.70 246.70,361.65 247.05,361.60 247.40,361.56 247.75,361.53 248.10,361.50 248.45,361.48 248.80,361.45 249.15,361.44 249.50,361.42 249.85,361.40 250.20,361.39 250.55,361.38 250.90,361.37 251.25,361.36" fill="none" stroke="#2a2a2a" stroke-width="0.8" stroke-linejoin="round" stroke-linecap="round"/>
<rect x="235.4" y="334.1" width="11.3" height="48.4" fill="none" stroke="#6b6b6b" stroke-width="1.0" stroke-dasharray="3.8,2.6"/>
<line x1="124.3" y1="382.5" x2="30.7" y2="434.3" stroke="#666" stroke-width="1.15" stroke-dasharray="4.4,3"/>
<line x1="138.4" y1="382.5" x2="108.5" y2="438" stroke="#666" stroke-width="1.15" stroke-dasharray="4.4,3"/>
<line x1="235.4" y1="382.5" x2="152.9" y2="425.9" stroke="#666" stroke-width="1.15" stroke-dasharray="4.4,3"/>
<line x1="246.7" y1="382.5" x2="227" y2="438" stroke="#666" stroke-width="1.15" stroke-dasharray="4.4,3"/>
<line x1="41.8" y1="422.0" x2="41.8" y2="516.1" stroke="#8c8c8c" stroke-width="0.9"/>
<polyline points="28.20,440.01 29.41,432.32 30.51,438.68 31.63,433.15 32.59,438.49 33.74,434.62 35.29,439.94 36.31,432.88 37.64,438.51 39.01,432.80 40.13,438.33 41.30,437.00" fill="none" stroke="#222" stroke-width="0.8" stroke-linejoin="round" stroke-linecap="round"/>
<path d="M41.3,435.5 C42.3,450 43.5,492 45.2,500 C46.3,507 47.5,513 49.9,514.6 C51,515 52,512 53.1,508" fill="none" stroke="#333" stroke-width="0.8"/>
<polyline points="53.10,508.00 53.66,504.39 54.29,500.53 54.79,497.60 55.24,495.12 55.98,491.29 56.69,488.11 57.25,484.83 57.75,483.37 58.43,479.88 58.98,479.37 59.39,474.99 60.08,475.82 60.54,471.85 61.10,471.44 61.50,467.03 62.08,470.50 62.63,464.57 63.21,466.01 63.75,462.36 64.34,465.15 64.92,457.71 65.59,462.93 66.03,457.97 66.47,458.33 66.91,453.99 67.64,459.88 68.13,454.84 68.53,457.53 68.98,452.32 69.40,455.88 69.81,452.07 70.28,455.91 70.72,450.54 71.26,452.75 71.96,449.58 72.67,453.30 73.13,446.79 73.82,452.55 74.23,447.34 74.73,450.30 75.24,446.05 75.82,449.13 76.40,445.81 77.02,449.34 77.58,442.49 78.23,446.44 78.88,443.67 79.42,445.90 80.04,443.67 80.58,448.13 80.99,441.99 81.44,447.98 82.01,440.25 82.71,446.16 83.43,440.62 84.05,446.31 84.65,441.28 85.30,446.20 85.71,438.91 86.37,446.98 86.82,440.35 87.44,446.24 87.92,441.60 88.47,443.48 88.88,441.01 89.52,445.22 90.18,440.39 90.88,443.95 91.35,438.75 91.88,442.23 92.62,439.57 93.29,443.39 93.88,440.84 94.63,442.70 95.37,439.57 95.79,441.15 96.34,437.67 96.79,445.23 97.26,439.04 97.88,444.09 98.30,437.56 98.88,443.53 99.49,438.06 100.00,441.49 100.61,438.80 101.04,444.05 101.54,438.70 102.28,442.63 102.96,436.72 103.46,441.55 104.13,438.98 104.57,443.25 105.13,437.55 105.60,444.24 106.07,439.50 106.62,445.11 107.16,436.96 107.82,444.49 108.49,438.47 108.95,442.14" fill="none" stroke="#222" stroke-width="0.6" stroke-linejoin="round" stroke-linecap="round"/>
<polyline points="53.10,508.00 53.57,504.96 54.03,502.06 54.50,499.29 54.96,496.65 55.43,494.12 55.90,491.70 56.36,489.39 56.83,487.19 57.29,485.08 57.76,483.07 58.22,481.15 58.69,479.31 59.16,477.55 59.62,475.88 60.09,474.28 60.55,472.75 61.02,471.28 61.48,469.89 61.95,468.55 62.42,467.28 62.88,466.06 63.35,464.90 63.81,463.79 64.28,462.72 64.75,461.71 65.21,460.74 65.68,459.81 66.14,458.93 66.61,458.08 67.08,457.28 67.54,456.51 68.01,455.77 68.47,455.07 68.94,454.39 69.40,453.75 69.87,453.14 70.34,452.55 70.80,451.99 71.27,451.45 71.73,450.94 72.20,450.45 72.66,449.99 73.13,449.54 73.60,449.12 74.06,448.71 74.53,448.32 74.99,447.95 75.46,447.59 75.93,447.25 76.39,446.93 76.86,446.62 77.32,446.33 77.79,446.04 78.25,445.77 78.72,445.52 79.19,445.27 79.65,445.03 80.12,444.81 80.58,444.60 81.05,444.39 81.52,444.19 81.98,444.01 82.45,443.83 82.91,443.66 83.38,443.49 83.84,443.34 84.31,443.19 84.78,443.05 85.24,442.91 85.71,442.78 86.17,442.66 86.64,442.54 87.11,442.42 87.57,442.32 88.04,442.21 88.50,442.11 88.97,442.02 89.44,441.93 89.90,441.84 90.37,441.76 90.83,441.68 91.30,441.61 91.76,441.54 92.23,441.47 92.70,441.40 93.16,441.34 93.63,441.28 94.09,441.22 94.56,441.17 95.03,441.12 95.49,441.07 95.96,441.02 96.42,440.97 96.89,440.93 97.35,440.89 97.82,440.85 98.29,440.81 98.75,440.77 99.22,440.74 99.68,440.71 100.15,440.67 100.62,440.64 101.08,440.62 101.55,440.59 102.01,440.56 102.48,440.54 102.94,440.51 103.41,440.49 103.88,440.47 104.34,440.45 104.81,440.43 105.27,440.41 105.74,440.39 106.20,440.37 106.67,440.36 107.14,440.34 107.60,440.33 108.07,440.31 108.53,440.30 109.00,440.28" fill="none" stroke="#34c3dc" stroke-width="2.4" stroke-linejoin="round" stroke-linecap="round"/>
<text x="57.7" y="431.6" font-size="9.3" fill="#231f20" text-anchor="start" font-weight="normal" stroke="#231f20" stroke-width="0.12">11th pulse</text>
<text x="71.5" y="475.4" font-size="9.3" fill="#231f20" text-anchor="start" font-weight="normal" stroke="#231f20" stroke-width="0.12"><tspan font-family="Liberation Serif">&#964;</tspan> = 2.90</text>
<line x1="153.4" y1="425.2" x2="153.4" y2="513.3" stroke="#8c8c8c" stroke-width="0.9"/>
<line x1="155.3" y1="427" x2="155.3" y2="470" stroke="#a0a0a0" stroke-width="0.7"/>
<polyline points="144.70,439.56 145.77,432.94 147.07,438.48 148.46,434.89 149.51,438.54 150.60,433.63 151.83,438.45 152.90,437.40" fill="none" stroke="#222" stroke-width="0.8" stroke-linejoin="round" stroke-linecap="round"/>
<path d="M155.2,437 C156.2,455 157.5,472 158.5,483 C159.5,497 160.5,506 162.2,511.4 L164.1,508.6 L165.3,511 L166.5,509.1" fill="none" stroke="#333" stroke-width="0.8"/>
<polyline points="166.50,509.10 167.00,506.50 167.65,503.29 168.18,500.75 168.67,498.51 169.40,495.32 170.15,492.21 170.60,490.42 171.20,488.16 171.91,485.59 172.42,483.90 173.17,481.17 173.85,480.00 174.38,477.38 175.04,476.55 175.71,472.20 176.20,474.19 176.72,470.35 177.40,470.27 177.99,467.32 178.62,469.90 179.34,463.40 179.84,465.10 180.40,461.50 181.02,465.28 181.77,457.41 182.17,462.64 182.83,454.99 183.44,460.34 183.89,456.95 184.36,459.73 185.09,452.46 185.50,459.77 186.20,452.12 186.74,455.28 187.22,451.26 187.72,453.81 188.29,450.91 188.86,453.70 189.59,447.74 190.08,452.31 190.48,447.34 191.08,451.92 191.69,445.13 192.28,450.37 192.94,447.55 193.47,449.89 193.94,444.82 194.58,449.80 195.16,444.35 195.73,446.84 196.41,444.89 197.08,446.79 197.72,444.97 198.29,447.62 198.72,440.19 199.42,444.40 199.89,441.20 200.59,447.04 201.18,442.44 201.77,444.62 202.46,439.63 203.00,443.57 203.66,438.93 204.07,445.60 204.59,440.34 205.08,444.52 205.56,439.42 206.07,443.09 206.82,438.73 207.27,442.83 207.81,439.36 208.47,442.29 209.06,439.49 209.74,445.10 210.36,439.70 211.01,443.79 211.67,437.74 212.35,442.21 212.82,440.21 213.26,441.97 213.79,439.55 214.52,440.75 215.03,436.89 215.69,442.34 216.27,438.25 216.71,443.80 217.38,436.21 217.86,441.67 218.41,437.69 218.84,441.93 219.35,438.81 219.95,440.20 220.50,437.66 221.00,443.77 221.48,437.92 222.01,443.27 222.63,437.38 223.19,440.48 223.92,436.34 224.47,442.59 225.14,438.42 225.68,441.77" fill="none" stroke="#222" stroke-width="0.6" stroke-linejoin="round" stroke-linecap="round"/>
<polyline points="166.50,509.10 167.00,506.52 167.49,504.04 167.99,501.65 168.49,499.34 168.98,497.12 169.48,494.98 169.98,492.92 170.47,490.93 170.97,489.02 171.47,487.17 171.96,485.39 172.46,483.68 172.96,482.03 173.45,480.44 173.95,478.90 174.45,477.43 174.94,476.00 175.44,474.63 175.94,473.31 176.43,472.04 176.93,470.81 177.43,469.63 177.92,468.49 178.42,467.39 178.92,466.33 179.41,465.31 179.91,464.33 180.41,463.38 180.90,462.47 181.40,461.59 181.90,460.74 182.39,459.92 182.89,459.14 183.39,458.38 183.88,457.65 184.38,456.94 184.88,456.27 185.37,455.61 185.87,454.98 186.37,454.38 186.86,453.79 187.36,453.23 187.86,452.68 188.35,452.16 188.85,451.66 189.35,451.17 189.84,450.70 190.34,450.25 190.84,449.82 191.33,449.40 191.83,448.99 192.33,448.60 192.82,448.23 193.32,447.87 193.82,447.52 194.31,447.18 194.81,446.86 195.31,446.55 195.80,446.25 196.30,445.96 196.80,445.68 197.29,445.41 197.79,445.15 198.29,444.90 198.78,444.66 199.28,444.43 199.78,444.21 200.27,443.99 200.77,443.79 201.27,443.59 201.76,443.40 202.26,443.21 202.76,443.03 203.25,442.86 203.75,442.69 204.25,442.53 204.74,442.38 205.24,442.23 205.74,442.09 206.23,441.95 206.73,441.82 207.23,441.69 207.72,441.57 208.22,441.45 208.72,441.33 209.21,441.22 209.71,441.12 210.21,441.01 210.70,440.91 211.20,440.82 211.70,440.73 212.19,440.64 212.69,440.55 213.19,440.47 213.68,440.39 214.18,440.32 214.68,440.24 215.17,440.17 215.67,440.10 216.17,440.04 216.66,439.98 217.16,439.91 217.66,439.86 218.15,439.80 218.65,439.74 219.15,439.69 219.64,439.64 220.14,439.59 220.64,439.55 221.13,439.50 221.63,439.46 222.13,439.41 222.62,439.37 223.12,439.34 223.62,439.30 224.11,439.26 224.61,439.23 225.11,439.19 225.60,439.16 226.10,439.13" fill="none" stroke="#213f9a" stroke-width="2.4" stroke-linejoin="round" stroke-linecap="round"/>
<text x="172.4" y="432.9" font-size="9.3" fill="#231f20" text-anchor="start" font-weight="normal" stroke="#231f20" stroke-width="0.12">11th pulse</text>
<text x="188.1" y="476.3" font-size="9.3" fill="#231f20" text-anchor="start" font-weight="normal" stroke="#231f20" stroke-width="0.12"><tspan font-family="Liberation Serif">&#964;</tspan> = 3.15</text>
<polyline points="200.90,502.30 217.10,502.30 217.10,487.70" fill="none" stroke="#000" stroke-width="1.2" stroke-linejoin="round" stroke-linecap="round" stroke-linecap="butt" stroke-linejoin="miter"/>
<text x="222" y="499.7" font-size="9.3" fill="#231f20" text-anchor="start" font-weight="normal" stroke="#231f20" stroke-width="0.12">10 pA</text>
<text x="201.3" y="513.5" font-size="9.3" fill="#231f20" text-anchor="start" font-weight="normal" stroke="#231f20" stroke-width="0.12">5 ms</text>
<text x="292.5" y="311.6" font-size="12.5" fill="#000" text-anchor="start" font-weight="bold">f</text>
<rect x="326.9" y="384" width="20.7" height="54.19999999999999" fill="#c3e9f9"/>
<rect x="362.4" y="374.8" width="20" height="63.39999999999998" fill="#93a2cf"/>
<line x1="319.1" y1="332.7" x2="319.1" y2="438.8" stroke="#000" stroke-width="1"/>
<line x1="316.1" y1="333.2" x2="319.1" y2="333.2" stroke="#000" stroke-width="1"/>
<text x="312.8" y="336.5" font-size="9.3" fill="#231f20" text-anchor="end" font-weight="normal" stroke="#231f20" stroke-width="0.12">5</text>
<line x1="316.1" y1="359.45" x2="319.1" y2="359.45" stroke="#000" stroke-width="1"/>
<text x="312.8" y="362.75" font-size="9.3" fill="#231f20" text-anchor="end" font-weight="normal" stroke="#231f20" stroke-width="0.12">4</text>
<line x1="316.1" y1="385.7" x2="319.1" y2="385.7" stroke="#000" stroke-width="1"/>
<text x="312.8" y="389.0" font-size="9.3" fill="#231f20" text-anchor="end" font-weight="normal" stroke="#231f20" stroke-width="0.12">3</text>
<line x1="316.1" y1="411.95" x2="319.1" y2="411.95" stroke="#000" stroke-width="1"/>
<text x="312.8" y="415.25" font-size="9.3" fill="#231f20" text-anchor="end" font-weight="normal" stroke="#231f20" stroke-width="0.12">2</text>
<line x1="316.1" y1="438.2" x2="319.1" y2="438.2" stroke="#000" stroke-width="1"/>
<text x="312.8" y="441.5" font-size="9.3" fill="#231f20" text-anchor="end" font-weight="normal" stroke="#231f20" stroke-width="0.12">1</text>
<line x1="318.6" y1="438.2" x2="389.9" y2="438.2" stroke="#000" stroke-width="1"/>
<text x="299" y="387.1" font-size="9.3" fill="#231f20" text-anchor="middle" font-weight="normal" stroke="#231f20" stroke-width="0.12" transform="rotate(-90 299 387.1)">STC Tau (ms)</text>
<line x1="336.8" y1="333.9" x2="371.8" y2="333.9" stroke="#333" stroke-width="1.4"/>
<path d="M355.00,325.30 L355.62,326.95 L357.38,327.03 L356.00,328.12 L356.47,329.82 L355.00,328.85 L353.53,329.82 L354.00,328.12 L352.62,327.03 L354.38,326.95 Z" fill="#111" stroke="none" stroke-width="1"/>
<line x1="337.3" y1="350.7" x2="372.2" y2="344.3" stroke="#333" stroke-width="0.5"/>
<line x1="337.3" y1="352.1" x2="372.2" y2="342.9" stroke="#333" stroke-width="0.5"/>
<line x1="337.3" y1="349.9" x2="372.2" y2="345.7" stroke="#333" stroke-width="0.5"/>
<line x1="337.3" y1="378.1" x2="372.2" y2="369.7" stroke="#333" stroke-width="0.5"/>
<line x1="337.3" y1="390.1" x2="372.2" y2="351.4" stroke="#333" stroke-width="0.5"/>
<line x1="337.3" y1="381.7" x2="372.2" y2="381.7" stroke="#333" stroke-width="0.5"/>
<line x1="337.3" y1="388.0" x2="372.2" y2="383.8" stroke="#333" stroke-width="0.5"/>
<line x1="337.3" y1="390.8" x2="372.2" y2="386.6" stroke="#333" stroke-width="0.5"/>
<line x1="337.3" y1="393.6" x2="372.2" y2="388.7" stroke="#333" stroke-width="0.5"/>
<line x1="337.3" y1="395.7" x2="372.2" y2="393.6" stroke="#333" stroke-width="0.5"/>
<line x1="337.3" y1="397.9" x2="372.2" y2="395.0" stroke="#333" stroke-width="0.5"/>
<line x1="337.3" y1="400.0" x2="372.2" y2="397.2" stroke="#333" stroke-width="0.5"/>
<circle cx="337.3" cy="350.7" r="2.2" fill="#33c1dc"/>
<circle cx="337.3" cy="352.1" r="2.2" fill="#33c1dc"/>
<circle cx="337.3" cy="349.9" r="2.2" fill="#33c1dc"/>
<circle cx="337.3" cy="378.1" r="2.2" fill="#33c1dc"/>
<circle cx="337.3" cy="390.1" r="2.2" fill="#33c1dc"/>
<circle cx="337.3" cy="381.7" r="2.2" fill="#33c1dc"/>
<circle cx="337.3" cy="388.0" r="2.2" fill="#33c1dc"/>
<circle cx="337.3" cy="390.8" r="2.2" fill="#33c1dc"/>
<circle cx="337.3" cy="393.6" r="2.2" fill="#33c1dc"/>
<circle cx="337.3" cy="395.7" r="2.2" fill="#33c1dc"/>
<circle cx="337.3" cy="397.9" r="2.2" fill="#33c1dc"/>
<circle cx="337.3" cy="400.0" r="2.2" fill="#33c1dc"/>
<circle cx="372.2" cy="344.3" r="2.2" fill="#2a47a3"/>
<circle cx="372.2" cy="342.9" r="2.2" fill="#2a47a3"/>
<circle cx="372.2" cy="345.7" r="2.2" fill="#2a47a3"/>
<circle cx="372.2" cy="369.7" r="2.2" fill="#2a47a3"/>
<circle cx="372.2" cy="351.4" r="2.2" fill="#2a47a3"/>
<circle cx="372.2" cy="381.7" r="2.2" fill="#2a47a3"/>
<circle cx="372.2" cy="383.8" r="2.2" fill="#2a47a3"/>
<circle cx="372.2" cy="386.6" r="2.2" fill="#2a47a3"/>
<circle cx="372.2" cy="388.7" r="2.2" fill="#2a47a3"/>
<circle cx="372.2" cy="393.6" r="2.2" fill="#2a47a3"/>
<circle cx="372.2" cy="395.0" r="2.2" fill="#2a47a3"/>
<circle cx="372.2" cy="397.2" r="2.2" fill="#2a47a3"/>
<line x1="337.3" y1="379.5" x2="337.3" y2="388.7" stroke="#000" stroke-width="1.3"/>
<line x1="334.2" y1="379.5" x2="340.40000000000003" y2="379.5" stroke="#000" stroke-width="1.3"/>
<line x1="334.2" y1="388.7" x2="340.40000000000003" y2="388.7" stroke="#000" stroke-width="1.3"/>
<line x1="372.2" y1="369.7" x2="372.2" y2="380.3" stroke="#000" stroke-width="1.3"/>
<line x1="369.09999999999997" y1="369.7" x2="375.3" y2="369.7" stroke="#000" stroke-width="1.3"/>
<line x1="369.09999999999997" y1="380.3" x2="375.3" y2="380.3" stroke="#000" stroke-width="1.3"/>
<text x="341.8" y="446" font-size="9.3" fill="#3ec3dc" text-anchor="end" font-weight="normal" stroke="#3ec3dc" stroke-width="0.12" transform="rotate(-45 341.8 446)">50 Hz</text>
<text x="378.3" y="446.3" font-size="9.3" fill="#3a55a6" text-anchor="end" font-weight="normal" stroke="#3a55a6" stroke-width="0.12" transform="rotate(-45 378.3 446.3)">100 Hz</text>
<text x="0" y="543.7" font-size="12.5" fill="#000" text-anchor="start" font-weight="bold">g</text>
<text x="46.1" y="544.4" font-size="9.3" fill="#a3286e" text-anchor="start" font-weight="normal" stroke="#a3286e" stroke-width="0.12">Anterior cingulate cortex</text>
<text x="29.6" y="563.5" font-size="9.3" fill="#ec6480" text-anchor="start" font-weight="normal" stroke="#ec6480" stroke-width="0.12">50 Hz</text>
<text x="154.2" y="563.4" font-size="9.3" fill="#a1206c" text-anchor="start" font-weight="normal" stroke="#a1206c" stroke-width="0.12">100 Hz</text>
<line x1="38.2" y1="568.3" x2="38.2" y2="673.0" stroke="#8c8c8c" stroke-width="0.9"/>
<polyline points="24.70,591.80 25.75,583.66 27.16,592.06 28.81,586.68 30.35,590.78 31.45,585.88 32.94,593.29 34.40,585.89 35.41,591.00 36.48,585.24 37.70,589.50" fill="none" stroke="#222" stroke-width="0.8" stroke-linejoin="round" stroke-linecap="round"/>
<path d="M37.8,590 L39.5,615 L42.6,660 L43.8,664.8 L44.5,662.2" fill="none" stroke="#333" stroke-width="0.8"/>
<polyline points="44.50,662.20 45.11,658.97 45.78,655.59 46.36,652.85 47.09,649.54 47.77,646.66 48.18,645.08 48.79,642.28 49.52,640.28 50.26,636.85 50.85,635.81 51.46,632.37 52.15,633.02 52.62,628.18 53.10,631.17 53.69,626.93 54.11,628.22 54.65,623.25 55.33,627.65 55.76,619.44 56.49,624.05 56.93,618.61 57.36,620.80 58.07,614.60 58.74,620.66 59.31,613.61 59.72,615.68 60.46,611.20 61.15,614.98 61.56,611.67 62.11,613.57 62.57,610.55 63.18,612.09 63.73,609.50 64.46,612.27 65.05,606.50 65.49,612.10 65.94,605.30 66.68,609.55 67.26,603.24 67.92,610.42 68.40,605.09 68.90,607.81 69.30,601.82 69.95,605.97 70.40,601.93 70.82,606.91 71.49,599.44 72.24,604.08 72.90,601.77 73.36,604.04 73.83,600.19 74.51,605.41 75.19,600.72 75.81,605.50 76.23,599.85 76.96,602.70 77.47,598.59 77.95,602.42 78.59,600.71 79.24,603.78 79.65,596.40 80.08,601.81 80.83,597.14 81.56,603.84 82.18,596.90 82.85,603.07 83.58,596.85 84.05,601.83 84.48,595.72 85.11,600.85 85.75,597.46 86.35,602.71 86.79,596.20 87.21,601.82 87.72,595.73 88.27,600.95 88.70,597.33 89.36,601.58 89.85,595.52 90.34,601.22 90.94,596.64 91.69,600.63 92.42,595.94 93.14,600.56 93.56,594.49 94.14,598.61 94.84,594.60 95.37,601.24 96.07,594.67 96.67,598.18 97.22,597.64 97.92,599.66 98.45,594.62 99.02,601.30 99.62,594.15 100.28,597.47 100.84,596.29 101.29,600.37 101.83,596.10 102.34,599.87" fill="none" stroke="#222" stroke-width="0.6" stroke-linejoin="round" stroke-linecap="round"/>
<polyline points="44.50,662.20 44.98,659.62 45.47,657.15 45.95,654.77 46.44,652.48 46.92,650.29 47.41,648.18 47.89,646.16 48.37,644.21 48.86,642.35 49.34,640.55 49.83,638.83 50.31,637.18 50.79,635.59 51.28,634.06 51.76,632.60 52.25,631.19 52.73,629.84 53.22,628.54 53.70,627.29 54.18,626.09 54.67,624.94 55.15,623.84 55.64,622.78 56.12,621.76 56.60,620.78 57.09,619.84 57.57,618.94 58.06,618.07 58.54,617.23 59.02,616.43 59.51,615.67 59.99,614.93 60.48,614.22 60.96,613.54 61.45,612.88 61.93,612.26 62.41,611.65 62.90,611.07 63.38,610.52 63.87,609.98 64.35,609.47 64.83,608.98 65.32,608.50 65.80,608.05 66.29,607.61 66.77,607.19 67.26,606.79 67.74,606.40 68.22,606.03 68.71,605.67 69.19,605.33 69.68,605.00 70.16,604.68 70.64,604.38 71.13,604.09 71.61,603.81 72.10,603.54 72.58,603.28 73.07,603.03 73.55,602.79 74.03,602.56 74.52,602.34 75.00,602.13 75.49,601.93 75.97,601.73 76.45,601.55 76.94,601.37 77.42,601.19 77.91,601.03 78.39,600.87 78.88,600.72 79.36,600.57 79.84,600.43 80.33,600.29 80.81,600.16 81.30,600.04 81.78,599.92 82.26,599.80 82.75,599.69 83.23,599.58 83.72,599.48 84.20,599.38 84.69,599.29 85.17,599.20 85.65,599.11 86.14,599.03 86.62,598.95 87.11,598.87 87.59,598.80 88.07,598.73 88.56,598.66 89.04,598.59 89.53,598.53 90.01,598.47 90.50,598.41 90.98,598.36 91.46,598.30 91.95,598.25 92.43,598.20 92.92,598.15 93.40,598.11 93.88,598.06 94.37,598.02 94.85,597.98 95.34,597.94 95.82,597.91 96.31,597.87 96.79,597.84 97.27,597.80 97.76,597.77 98.24,597.74 98.73,597.71 99.21,597.68 99.69,597.66 100.18,597.63 100.66,597.60 101.15,597.58 101.63,597.56 102.12,597.54 102.60,597.51" fill="none" stroke="#e9587a" stroke-width="2.4" stroke-linejoin="round" stroke-linecap="round"/>
<text x="50.6" y="589.6" font-size="9.3" fill="#231f20" text-anchor="start" font-weight="normal" stroke="#231f20" stroke-width="0.12">11th pulse</text>
<text x="63.3" y="630.8" font-size="9.3" fill="#231f20" text-anchor="start" font-weight="normal" stroke="#231f20" stroke-width="0.12"><tspan font-family="Liberation Serif">&#964;</tspan> = 3.17</text>
<line x1="156.0" y1="568.0" x2="156.0" y2="662.8" stroke="#8c8c8c" stroke-width="0.9"/>
<polyline points="145.00,592.89 146.37,587.72 148.00,594.92 149.32,585.64 150.45,595.82 151.68,586.65 153.36,595.66 154.74,586.15 155.50,591.90" fill="none" stroke="#222" stroke-width="0.8" stroke-linejoin="round" stroke-linecap="round"/>
<path d="M156.6,592 C157.3,605 158,620 159,630 C160,645 161.5,660 163,663.8 L163.5,658.8" fill="none" stroke="#333" stroke-width="0.8"/>
<polyline points="163.50,658.80 163.97,655.59 164.66,651.18 165.12,648.40 165.69,645.17 166.12,642.88 166.79,639.51 167.20,637.60 167.82,634.82 168.45,632.22 169.03,629.96 169.69,627.18 170.37,625.89 170.86,622.75 171.32,624.03 171.84,619.84 172.39,620.10 172.91,617.23 173.58,617.34 174.16,614.69 174.83,616.34 175.25,611.68 175.69,613.51 176.20,608.97 176.78,614.05 177.45,606.41 178.16,612.48 178.84,605.81 179.45,607.87 180.02,605.54 180.73,610.03 181.21,603.14 181.90,606.17 182.42,599.78 182.89,608.14 183.45,599.36 183.88,606.43 184.46,600.56 185.02,606.33 185.49,597.99 185.94,606.23 186.66,600.15 187.27,604.86 187.78,599.83 188.32,602.01 188.91,596.56 189.32,605.50 189.90,595.46 190.51,601.81 191.11,596.50 191.77,601.61 192.42,597.67 192.94,602.01 193.68,595.39 194.10,601.62 194.52,594.37 194.96,603.51 195.52,595.01 195.97,602.64 196.61,593.88 197.35,600.06 197.77,597.10 198.43,603.00 199.11,596.14 199.70,601.65 200.22,595.86 200.72,599.09 201.21,593.74 201.65,600.65 202.35,593.70 203.07,598.97 203.75,594.15 204.30,600.95 205.00,594.56 205.66,602.86 206.40,594.91 206.91,601.43 207.57,596.99 208.16,600.19 208.59,596.11 209.09,598.74 209.80,596.32 210.39,599.50 210.92,593.24 211.50,597.63 212.15,595.87 212.67,598.42 213.12,594.88 213.86,598.92 214.40,594.15 214.95,598.81 215.59,593.19 216.26,598.33 216.91,595.60" fill="none" stroke="#222" stroke-width="0.6" stroke-linejoin="round" stroke-linecap="round"/>
<polyline points="163.50,658.80 163.95,655.75 164.39,652.84 164.84,650.09 165.28,647.46 165.73,644.97 166.18,642.60 166.62,640.35 167.07,638.21 167.51,636.17 167.96,634.24 168.40,632.40 168.85,630.65 169.30,628.99 169.74,627.41 170.19,625.90 170.63,624.48 171.08,623.12 171.53,621.83 171.97,620.60 172.42,619.44 172.86,618.33 173.31,617.27 173.75,616.27 174.20,615.32 174.65,614.41 175.09,613.55 175.54,612.74 175.98,611.96 176.43,611.22 176.88,610.52 177.32,609.85 177.77,609.22 178.21,608.61 178.66,608.04 179.10,607.49 179.55,606.97 180.00,606.48 180.44,606.01 180.89,605.57 181.33,605.14 181.78,604.74 182.22,604.36 182.67,604.00 183.12,603.65 183.56,603.32 184.01,603.01 184.45,602.71 184.90,602.43 185.35,602.16 185.79,601.91 186.24,601.67 186.68,601.43 187.13,601.22 187.57,601.01 188.02,600.81 188.47,600.62 188.91,600.44 189.36,600.27 189.80,600.11 190.25,599.96 190.70,599.81 191.14,599.67 191.59,599.54 192.03,599.41 192.48,599.30 192.93,599.18 193.37,599.07 193.82,598.97 194.26,598.87 194.71,598.78 195.15,598.69 195.60,598.61 196.05,598.53 196.49,598.45 196.94,598.38 197.38,598.31 197.83,598.25 198.28,598.19 198.72,598.13 199.17,598.07 199.61,598.02 200.06,597.97 200.50,597.92 200.95,597.88 201.40,597.83 201.84,597.79 202.29,597.75 202.73,597.72 203.18,597.68 203.62,597.65 204.07,597.61 204.52,597.58 204.96,597.56 205.41,597.53 205.85,597.50 206.30,597.48 206.75,597.45 207.19,597.43 207.64,597.41 208.08,597.39 208.53,597.37 208.97,597.35 209.42,597.33 209.87,597.32 210.31,597.30 210.76,597.29 211.20,597.27 211.65,597.26 212.10,597.25 212.54,597.23 212.99,597.22 213.43,597.21 213.88,597.20 214.32,597.19 214.77,597.18 215.22,597.17 215.66,597.16 216.11,597.16 216.55,597.15 217.00,597.14" fill="none" stroke="#a1226b" stroke-width="2.4" stroke-linejoin="round" stroke-linecap="round"/>
<text x="167.9" y="590" font-size="9.3" fill="#231f20" text-anchor="start" font-weight="normal" stroke="#231f20" stroke-width="0.12">11th pulse</text>
<text x="181.3" y="629.5" font-size="9.3" fill="#231f20" text-anchor="start" font-weight="normal" stroke="#231f20" stroke-width="0.12"><tspan font-family="Liberation Serif">&#964;</tspan> = 2.32</text>
<polyline points="199.20,663.60 215.40,663.60 215.40,644.60" fill="none" stroke="#000" stroke-width="1.2" stroke-linejoin="round" stroke-linecap="round" stroke-linecap="butt" stroke-linejoin="miter"/>
<text x="219.9" y="659" font-size="9.3" fill="#231f20" text-anchor="start" font-weight="normal" stroke="#231f20" stroke-width="0.12">10 pA</text>
<text x="200.1" y="674.2" font-size="9.3" fill="#231f20" text-anchor="start" font-weight="normal" stroke="#231f20" stroke-width="0.12">5 ms</text>
<text x="291" y="541.9" font-size="12.5" fill="#000" text-anchor="start" font-weight="bold">h</text>
<rect x="326.6" y="594.1" width="20" height="63.0" fill="#fad4dd"/>
<rect x="361.9" y="603" width="19.7" height="54.10000000000002" fill="#d098b8"/>
<line x1="318.9" y1="551.8000000000001" x2="318.9" y2="657.7" stroke="#000" stroke-width="1"/>
<line x1="315.9" y1="552.3000000000001" x2="318.9" y2="552.3000000000001" stroke="#000" stroke-width="1"/>
<text x="312.8" y="555.6" font-size="9.3" fill="#231f20" text-anchor="end" font-weight="normal" stroke="#231f20" stroke-width="0.12">5</text>
<line x1="315.9" y1="578.5" x2="318.9" y2="578.5" stroke="#000" stroke-width="1"/>
<text x="312.8" y="581.8" font-size="9.3" fill="#231f20" text-anchor="end" font-weight="normal" stroke="#231f20" stroke-width="0.12">4</text>
<line x1="315.9" y1="604.7" x2="318.9" y2="604.7" stroke="#000" stroke-width="1"/>
<text x="312.8" y="608.0" font-size="9.3" fill="#231f20" text-anchor="end" font-weight="normal" stroke="#231f20" stroke-width="0.12">3</text>
<line x1="315.9" y1="630.9" x2="318.9" y2="630.9" stroke="#000" stroke-width="1"/>
<text x="312.8" y="634.1999999999999" font-size="9.3" fill="#231f20" text-anchor="end" font-weight="normal" stroke="#231f20" stroke-width="0.12">2</text>
<line x1="315.9" y1="657.1" x2="318.9" y2="657.1" stroke="#000" stroke-width="1"/>
<text x="312.8" y="660.4" font-size="9.3" fill="#231f20" text-anchor="end" font-weight="normal" stroke="#231f20" stroke-width="0.12">1</text>
<line x1="318.6" y1="657.1" x2="389.9" y2="657.1" stroke="#000" stroke-width="1"/>
<text x="299" y="605" font-size="9.3" fill="#231f20" text-anchor="middle" font-weight="normal" stroke="#231f20" stroke-width="0.12" transform="rotate(-90 299 605)">STC Tau (ms)</text>
<line x1="337.3" y1="564.5" x2="372.3" y2="564.5" stroke="#000" stroke-width="1.2"/>
<path d="M349.70,556.50 L350.32,558.15 L352.08,558.23 L350.70,559.32 L351.17,561.02 L349.70,560.05 L348.23,561.02 L348.70,559.32 L347.32,558.23 L349.08,558.15 Z" fill="#111" stroke="none" stroke-width="1"/>
<path d="M354.30,556.50 L354.92,558.15 L356.68,558.23 L355.30,559.32 L355.77,561.02 L354.30,560.05 L352.83,561.02 L353.30,559.32 L351.92,558.23 L353.68,558.15 Z" fill="#111" stroke="none" stroke-width="1"/>
<path d="M358.90,556.50 L359.52,558.15 L361.28,558.23 L359.90,559.32 L360.37,561.02 L358.90,560.05 L357.43,561.02 L357.90,559.32 L356.52,558.23 L358.28,558.15 Z" fill="#111" stroke="none" stroke-width="1"/>
<line x1="337.0" y1="574.3" x2="372.2" y2="581.4" stroke="#333" stroke-width="0.5"/>
<line x1="337.0" y1="578.6" x2="372.2" y2="586.3" stroke="#333" stroke-width="0.5"/>
<line x1="337.0" y1="580.7" x2="372.2" y2="588.5" stroke="#333" stroke-width="0.5"/>
<line x1="337.0" y1="582.8" x2="372.2" y2="590.5" stroke="#333" stroke-width="0.5"/>
<line x1="337.0" y1="584.9" x2="372.2" y2="592.6" stroke="#333" stroke-width="0.5"/>
<line x1="337.0" y1="587.0" x2="372.2" y2="595.5" stroke="#333" stroke-width="0.5"/>
<line x1="337.0" y1="589.1" x2="372.2" y2="610.3" stroke="#333" stroke-width="0.5"/>
<line x1="337.0" y1="591.5" x2="372.2" y2="613.1" stroke="#333" stroke-width="0.5"/>
<line x1="337.0" y1="600.4" x2="372.2" y2="599.7" stroke="#333" stroke-width="0.5"/>
<line x1="337.0" y1="603.9" x2="372.2" y2="608.1" stroke="#333" stroke-width="0.5"/>
<line x1="337.0" y1="606.0" x2="372.2" y2="622.2" stroke="#333" stroke-width="0.5"/>
<line x1="337.0" y1="608.1" x2="372.2" y2="611.5" stroke="#333" stroke-width="0.5"/>
<line x1="337.0" y1="616.6" x2="372.2" y2="608.8" stroke="#333" stroke-width="0.5"/>
<line x1="337.0" y1="617.3" x2="372.2" y2="625.7" stroke="#333" stroke-width="0.5"/>
<circle cx="337.0" cy="574.3" r="2.2" fill="#ec6283"/>
<circle cx="337.0" cy="578.6" r="2.2" fill="#ec6283"/>
<circle cx="337.0" cy="580.7" r="2.2" fill="#ec6283"/>
<circle cx="337.0" cy="582.8" r="2.2" fill="#ec6283"/>
<circle cx="337.0" cy="584.9" r="2.2" fill="#ec6283"/>
<circle cx="337.0" cy="587.0" r="2.2" fill="#ec6283"/>
<circle cx="337.0" cy="589.1" r="2.2" fill="#ec6283"/>
<circle cx="337.0" cy="591.5" r="2.2" fill="#ec6283"/>
<circle cx="337.0" cy="600.4" r="2.2" fill="#ec6283"/>
<circle cx="337.0" cy="603.9" r="2.2" fill="#ec6283"/>
<circle cx="337.0" cy="606.0" r="2.2" fill="#ec6283"/>
<circle cx="337.0" cy="608.1" r="2.2" fill="#ec6283"/>
<circle cx="337.0" cy="616.6" r="2.2" fill="#ec6283"/>
<circle cx="337.0" cy="617.3" r="2.2" fill="#ec6283"/>
<circle cx="372.2" cy="581.4" r="2.2" fill="#a1206b"/>
<circle cx="372.2" cy="586.3" r="2.2" fill="#a1206b"/>
<circle cx="372.2" cy="588.5" r="2.2" fill="#a1206b"/>
<circle cx="372.2" cy="590.5" r="2.2" fill="#a1206b"/>
<circle cx="372.2" cy="592.6" r="2.2" fill="#a1206b"/>
<circle cx="372.2" cy="595.5" r="2.2" fill="#a1206b"/>
<circle cx="372.2" cy="610.3" r="2.2" fill="#a1206b"/>
<circle cx="372.2" cy="613.1" r="2.2" fill="#a1206b"/>
<circle cx="372.2" cy="599.7" r="2.2" fill="#a1206b"/>
<circle cx="372.2" cy="608.1" r="2.2" fill="#a1206b"/>
<circle cx="372.2" cy="622.2" r="2.2" fill="#a1206b"/>
<circle cx="372.2" cy="611.5" r="2.2" fill="#a1206b"/>
<circle cx="372.2" cy="608.8" r="2.2" fill="#a1206b"/>
<circle cx="372.2" cy="625.7" r="2.2" fill="#a1206b"/>
<line x1="337.0" y1="590.5" x2="337.0" y2="597.3" stroke="#000" stroke-width="1.3"/>
<line x1="333.9" y1="590.5" x2="340.1" y2="590.5" stroke="#000" stroke-width="1.3"/>
<line x1="333.9" y1="597.3" x2="340.1" y2="597.3" stroke="#000" stroke-width="1.3"/>
<line x1="372.2" y1="599.7" x2="372.2" y2="606.0" stroke="#000" stroke-width="1.3"/>
<line x1="369.09999999999997" y1="599.7" x2="375.3" y2="599.7" stroke="#000" stroke-width="1.3"/>
<line x1="369.09999999999997" y1="606.0" x2="375.3" y2="606.0" stroke="#000" stroke-width="1.3"/>
<text x="342.6" y="665.5" font-size="9.3" fill="#ec6480" text-anchor="end" font-weight="normal" stroke="#ec6480" stroke-width="0.12" transform="rotate(-45 342.6 665.5)">50 Hz</text>
<text x="376.8" y="666.4" font-size="9.3" fill="#a1206c" text-anchor="end" font-weight="normal" stroke="#a1206c" stroke-width="0.12" transform="rotate(-45 376.8 666.4)">100 Hz</text>
</svg>
</body></html>
